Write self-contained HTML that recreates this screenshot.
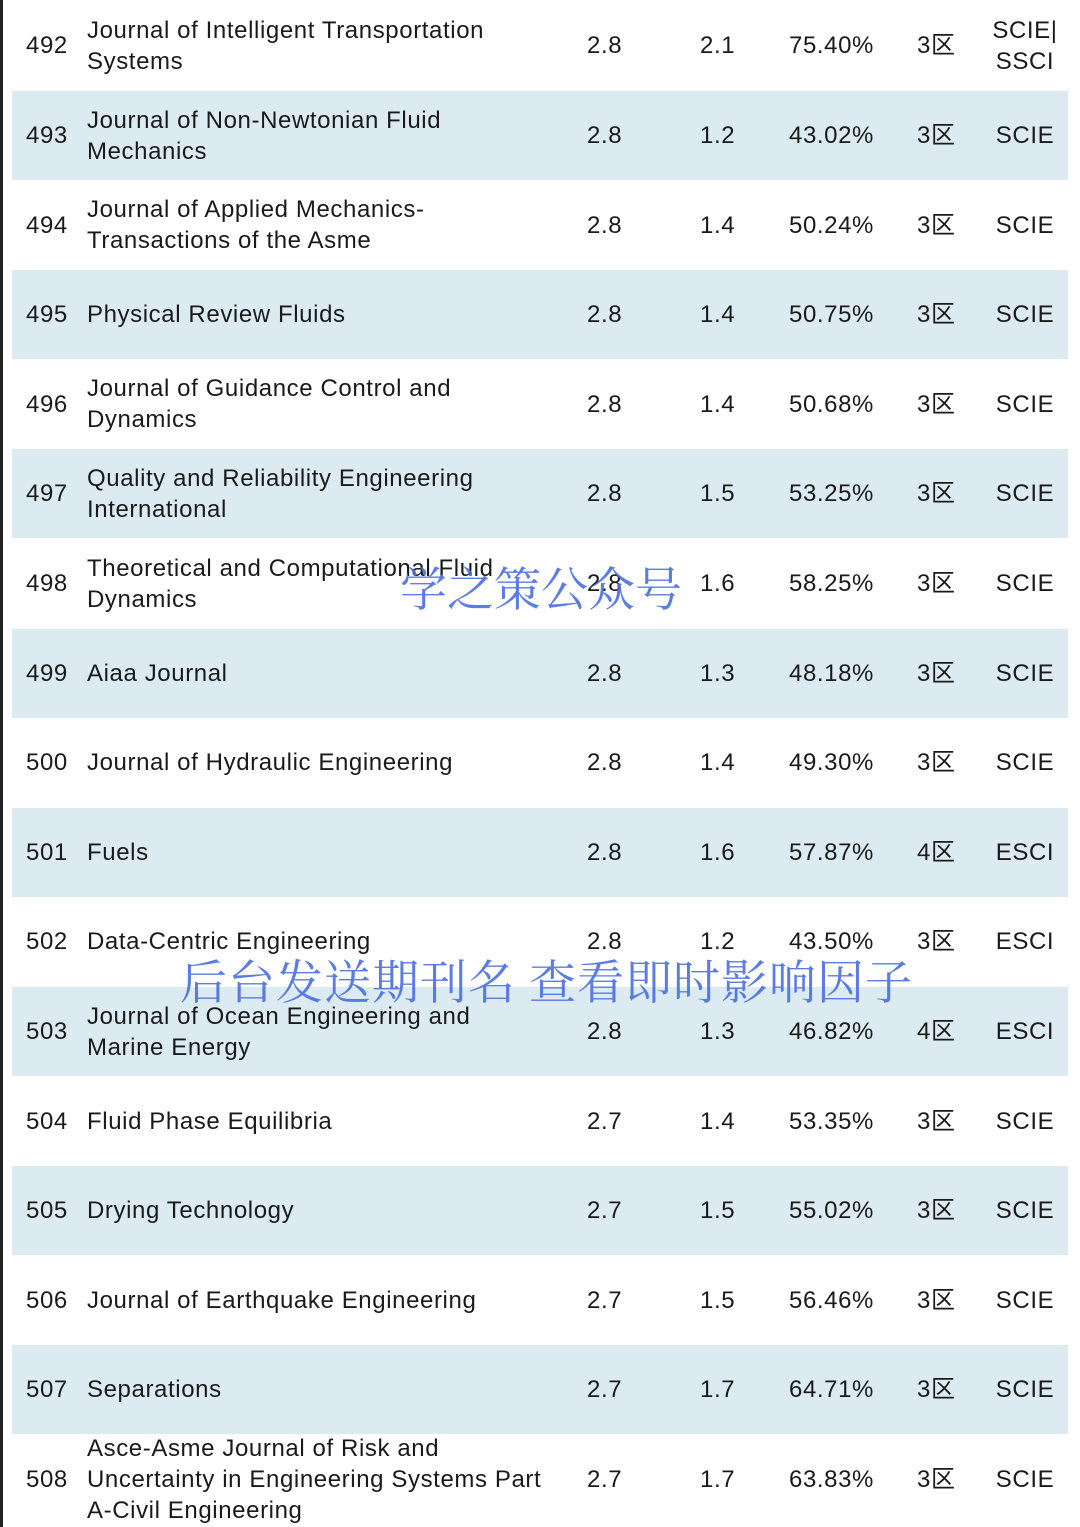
<!DOCTYPE html>
<html><head><meta charset="utf-8"><style>
body{margin:0;width:1080px;height:1527px;background:#fff;position:relative;overflow:hidden;font-family:"Liberation Sans","Noto Sans CJK SC",sans-serif;color:#1a1a1a;font-size:24px;letter-spacing:0.6px}
.row{position:absolute;left:12px;width:1056px;height:89px}
.row.b{background:#dcebf2}
.c{position:absolute;top:0;height:89px;display:flex;align-items:center;line-height:31px}
.edge{position:absolute;left:0;top:0;width:3px;height:1527px;background:#222}
.wm{position:absolute;font-family:"Noto Serif CJK SC",serif;color:#4a6fe0;font-size:47px;white-space:nowrap;opacity:.9;letter-spacing:0}
</style></head><body>
<div class="edge"></div>
<div id="t"></div>
<div class="wm" style="left:400px;top:553px">学之策公众号</div>
<div class="wm" style="left:180px;top:946px;letter-spacing:1px">后台发送期刊名 查看即时影响因子</div>
<script>
const nums=[492,493,494,495,496,497,498,499,500,501,502,503,504,505,506,507,508];
const names=["Journal of Intelligent Transportation<br>Systems","Journal of Non-Newtonian Fluid<br>Mechanics","Journal of Applied Mechanics-<br>Transactions of the Asme","Physical Review Fluids","Journal of Guidance Control and<br>Dynamics","Quality and Reliability Engineering<br>International","Theoretical and Computational Fluid<br>Dynamics","Aiaa Journal","Journal of Hydraulic Engineering","Fuels","Data-Centric Engineering","Journal of Ocean Engineering and<br>Marine Energy","Fluid Phase Equilibria","Drying Technology","Journal of Earthquake Engineering","Separations","Asce-Asme Journal of Risk and<br>Uncertainty in Engineering Systems Part<br>A-Civil Engineering"];
const ifs=["2.8","2.8","2.8","2.8","2.8","2.8","2.8","2.8","2.8","2.8","2.8","2.8","2.7","2.7","2.7","2.7","2.7"];
const fives=["2.1","1.2","1.4","1.4","1.4","1.5","1.6","1.3","1.4","1.6","1.2","1.3","1.4","1.5","1.5","1.7","1.7"];
const pcts=["75.40%","43.02%","50.24%","50.75%","50.68%","53.25%","58.25%","48.18%","49.30%","57.87%","43.50%","46.82%","53.35%","55.02%","56.46%","64.71%","63.83%"];
const zones=["3区","3区","3区","3区","3区","3区","3区","3区","3区","4区","3区","4区","3区","3区","3区","3区","3区"];
const idx=["SCIE|<br>SSCI","SCIE","SCIE","SCIE","SCIE","SCIE","SCIE","SCIE","SCIE","ESCI","ESCI","ESCI","SCIE","SCIE","SCIE","SCIE","SCIE"];
const t=document.getElementById('t');
nums.forEach((n,i)=>{
 const r=document.createElement('div');
 r.className='row'+(i%2?' b':'');
 r.style.top=(1.4+i*89.6)+'px';
 
 
 r.innerHTML=`<div class="c" style="left:14px">${n}</div>
<div class="c" style="left:75px">${names[i]}</div>
<div class="c" style="left:575px">${ifs[i]}</div>
<div class="c" style="left:688px">${fives[i]}</div>
<div class="c" style="left:777px">${pcts[i]}</div>
<div class="c" style="left:905px">${zones[i]}</div>
<div class="c" style="left:963px;width:100px;justify-content:center;text-align:center">${idx[i]}</div>`;
 t.appendChild(r);
});
</script>
</body></html>
